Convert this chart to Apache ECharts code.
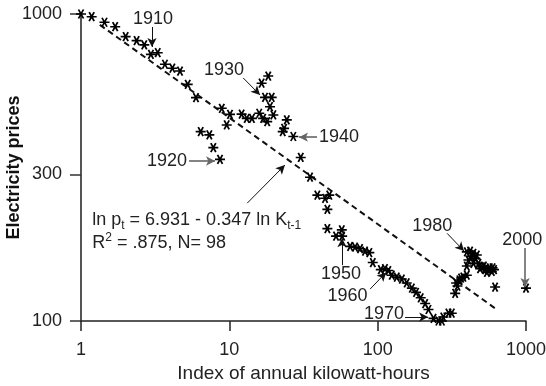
<!DOCTYPE html>
<html>
<head>
<meta charset="utf-8">
<script src="https://cdn.jsdelivr.net/npm/echarts@6/dist/echarts.min.js"></script>
<style>
  html, body { margin: 0; padding: 0; background: #fff; }
  #chart { width: 546px; height: 386px; }
</style>
</head>
<body>
<div id="chart"></div>
<script>
// index of annual kWh (x) and electricity price (y)
const kwhIndex = [
  1.0, 1.18, 1.44, 1.70, 2.0, 2.37, 2.67, 2.96, 3.29, 3.68, 4.13, 4.65, 5.24, 5.96,
  6.41, 7.33, 7.8, 8.65, 8.89, 9.6, 10.1, 12.1, 13.1, 14.2, 15.9, 16.9, 18.0, 19.8,
  18.8, 17.4, 19.3, 16.5, 18.3, 24.4, 23.4, 22.9, 27.0, 30.3, 35.0, 39.2, 44.2, 47.2,
  45.8, 45.8, 52.4, 57.3, 57.6, 65.2, 70.4, 76.1, 82.2, 87.9, 92.7, 105, 112, 118,
  124.5, 134.5, 145.5, 157, 170, 181.5, 195, 209, 220, 238, 257, 271, 277, 300, 316,
  333, 338, 345, 356, 365, 378, 399, 399, 409, 399, 420, 442, 431, 455, 466, 442, 478,
  490, 505, 520, 530, 545, 557, 570, 588, 595, 609, 619, 1000
];
const prices = [
  1000, 980, 940, 909, 844, 819, 793, 739, 748, 686, 666, 652, 590, 534,
  414, 404, 367, 336, 493, 435, 471, 472, 457, 457, 475, 457, 446, 469,
  499, 535, 535, 595, 628, 452, 424, 414, 399, 341, 294, 257, 251, 257,
  231, 200, 189, 198, 189, 175, 174, 172, 169, 167, 155, 147, 148, 146,
  141, 139, 137, 133, 128, 124, 119, 114, 109, 102, 100, 100, 103, 106, 106,
  123, 133, 130, 136, 138, 139, 141, 151, 158, 168, 169, 166, 162, 160, 164, 154, 154,
  148, 150, 151, 147, 144, 147, 149, 145, 149, 147, 129, 128
];
// fitted line ln p = 6.931 - 0.347 ln K, end points
const fitK = [1.34, 635];
const fitP = [922, 109];
const yTicks = [100, 300, 1000];

// year notes: text place, arrow start, arrow end (data units)
const notes = [
  { text: '1910', at: [3.06, 963], from: [3.01, 907], to: [3.01, 781], gray: false },
  { text: '1920', at: [3.80, 332], from: [5.35, 332], to: [8.01, 332], gray: true },
  { text: '1930', at: [9.21, 657], from: [12.4, 619], to: [16.1, 545], gray: false },
  { text: '1940', at: [54.9, 397], from: [39.0, 397], to: [29.5, 397], gray: true },
  { text: '1950', at: [56.6, 142], from: [57.5, 152], to: [57.5, 186], gray: false },
  { text: '1960', at: [62.7, 121], from: [88.9, 127], to: [114, 144], gray: false },
  { text: '1970', at: [110.5, 105], from: [153, 103], to: [219, 103], gray: false },
  { text: '1980', at: [233, 204], from: [294, 193], to: [382, 169], gray: false },
  { text: '2000', at: [942, 184], from: [986, 173], to: [986, 129], gray: true }
];
const eqAt = [1.19, 196];
const eqArrow = [[13.2, 242], [23.7, 322]];

const FONT = '"Liberation Sans", Arial, sans-serif';
const star = 'path://M0,5L10,5M2.5,0.67L7.5,9.33M2.5,9.33L7.5,0.67';

const chart = echarts.init(document.getElementById('chart'));

const arrows = notes.map((n) => [
  { coord: n.from, lineStyle: { color: n.gray ? '#666' : '#111', width: n.gray ? 1.6 : 1, type: 'solid' } },
  { coord: n.to }
]);
arrows.push([{ coord: eqArrow[0], lineStyle: { color: '#111', width: 1, type: 'solid' } }, { coord: eqArrow[1] }]);

const option = {
  animation: false,
  grid: { left: 81, right: 20, top: 14, bottom: 65, containLabel: false, outerBoundsMode: 'none' },
  textStyle: { fontFamily: FONT },
  xAxis: {
    type: 'log',
    logBase: 10,
    min: 1,
    max: 1000,
    name: 'Index of annual kilowatt-hours',
    nameLocation: 'middle',
    nameGap: 41,
    nameTextStyle: { fontSize: 19, color: '#222', fontFamily: FONT },
    axisLine: { lineStyle: { color: '#222', width: 1.5 } },
    axisTick: { length: 10, lineStyle: { color: '#222', width: 1.5 } },
    minorTick: { show: false },
    axisLabel: { fontSize: 18, color: '#222', margin: 20, fontFamily: FONT, formatter: (v) => String(v) },
    splitLine: { show: false }
  },
  yAxis: {
    type: 'log',
    logBase: 10,
    min: 100,
    max: 1000,
    name: 'Electricity prices',
    nameLocation: 'middle',
    nameGap: 58,
    nameMoveOverlap: false,
    nameTextStyle: { fontSize: 18, fontWeight: 'bold', color: '#111', fontFamily: FONT },
    axisLine: { lineStyle: { color: '#555', width: 2 } },
    axisTick: { length: 11, customValues: yTicks, lineStyle: { color: '#333', width: 1.5 } },
    axisLabel: { fontSize: 18, color: '#222', margin: 19, customValues: yTicks, fontFamily: FONT, formatter: (v) => String(v) },
    splitLine: { show: false }
  },
  series: [
    {
      name: 'fit',
      type: 'line',
      data: fitK.map((k, i) => [k, fitP[i]]),
      symbol: 'none',
      lineStyle: { color: '#111', width: 2, type: [6, 4] },
      z: 1
    },
    {
      name: 'years',
      type: 'scatter',
      data: kwhIndex.map((k, i) => [k, prices[i]]),
      symbol: star,
      symbolSize: [10, 9],
      itemStyle: { color: 'none', borderColor: '#000', borderWidth: 1.7, opacity: 1 },
      z: 3
    },
    {
      name: 'notes',
      type: 'scatter',
      data: notes.map((n) => ({ value: n.at, name: n.text })),
      symbolSize: 0,
      itemStyle: { opacity: 1 },
      label: {
        show: true,
        position: 'inside',
        formatter: '{b}',
        fontSize: 18,
        color: '#222',
        fontFamily: FONT
      },
      markLine: {
        silent: true,
        symbol: ['none', 'arrow'],
        symbolSize: [7, 9],
        label: { show: false },
        lineStyle: { type: 'solid' },
        data: arrows
      },
      z: 4
    },
    {
      name: 'equation',
      type: 'scatter',
      data: [{ value: eqAt, name: 'eq' }],
      symbolSize: 0,
      itemStyle: { opacity: 1 },
      label: {
        show: true,
        position: 'right',
        distance: 0,
        align: 'left',
        fontSize: 18,
        lineHeight: 23,
        color: '#222',
        fontFamily: FONT,
        formatter: 'ln p{sub|t} = 6.931 - 0.347 ln K{sub|t-1}\nR{sup|2} = .875, N= 98',
        rich: {
          sub: { fontSize: 12, lineHeight: 8, verticalAlign: 'bottom', color: '#222', fontFamily: FONT },
          sup: { fontSize: 12, lineHeight: 14, verticalAlign: 'top', color: '#222', fontFamily: FONT }
        }
      },
      z: 4
    }
  ]
};

chart.setOption(option);
</script>
</body>
</html>
